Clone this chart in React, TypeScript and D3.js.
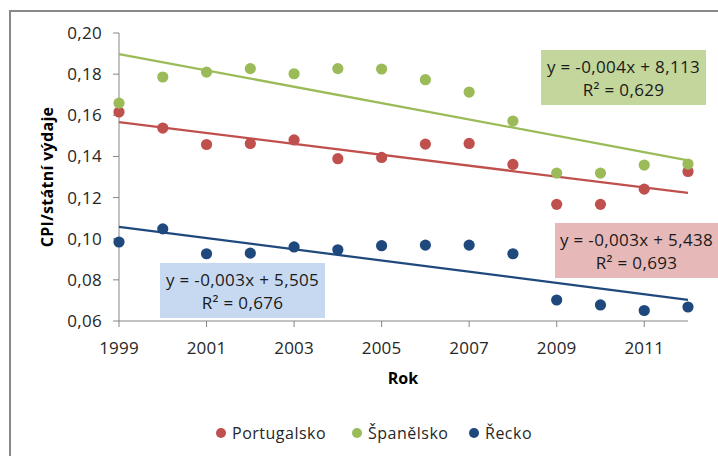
import React from "react";
import * as d3 from "d3";

const years = [1999, 2000, 2001, 2002, 2003, 2004, 2005, 2006, 2007, 2008, 2009, 2010, 2011, 2012];
const portugalsko = [0.1616, 0.1538, 0.1458, 0.1463, 0.148, 0.1389, 0.1395, 0.146, 0.1463, 0.1361, 0.1167, 0.1167, 0.1241, 0.1327];
const spanelsko = [0.1659, 0.1786, 0.181, 0.1827, 0.1802, 0.1827, 0.1825, 0.1773, 0.1713, 0.1572, 0.1319, 0.1319, 0.1358, 0.1363];
const recko = [0.0984, 0.1048, 0.0927, 0.093, 0.096, 0.0946, 0.0966, 0.0969, 0.0969, 0.0927, 0.0702, 0.0678, 0.0651, 0.0668];
const seriesNames = ["Portugalsko", "Španělsko", "Řecko"];
const seriesColors = ["#c0504d", "#9bbb59", "#1f497d"];
const equations = ["y = -0,003x + 5,438", "y = -0,004x + 8,113", "y = -0,003x + 5,505"];
const rSquared = ["R² = 0,693", "R² = 0,629", "R² = 0,676"];
const boxFills = ["#e6b9b8", "#c3d69b", "#c6d9f1"];
const yTicks = [0.06, 0.08, 0.1, 0.12, 0.14, 0.16, 0.18, 0.2];
const xTicks = [1999, 2001, 2003, 2005, 2007, 2009, 2011];

const FONT = "'Open Sans', 'Liberation Sans', sans-serif";

function regression(xs: number[], ys: number[]) {
  const mx = d3.mean(xs)!;
  const my = d3.mean(ys)!;
  let num = 0, den = 0;
  xs.forEach((x, i) => { num += (x - mx) * (ys[i] - my); den += (x - mx) ** 2; });
  const b = num / den;
  return { b, a: my - b * mx };
}

export default function App() {
  const x = d3.scaleLinear().domain([1999, 2012]).range([119, 688]);
  const y = d3.scaleLinear().domain([0.06, 0.2]).range([321, 33]);
  const fmt = (v: number) => d3.format(".2f")(v).replace(".", ",");
  const data = [portugalsko, spanelsko, recko];
  const boxes = [
    { x: 555, y: 223, w: 163, h: 55 },
    { x: 541, y: 50, w: 165, h: 55 },
    { x: 160, y: 263, w: 165, h: 55 },
  ];
  const legendX = [221, 357, 474];

  return (
    <svg width={718} height={456} style={{ position: "absolute", left: 0, top: 0, background: "#fff" }} fontFamily={FONT}>
      <rect x={10} y={11} width={720} height={460} fill="#fff" stroke="#898989" strokeWidth={2} />
      <line x1={119} x2={119} y1={y(0.2)} y2={y(0.06)} stroke="#868686" strokeWidth={1} />
      <line x1={119} x2={x(2012)} y1={y(0.06)} y2={y(0.06)} stroke="#868686" strokeWidth={1} />
      {yTicks.map((t) => (
        <g key={t}>
          <line x1={113} x2={119} y1={y(t)} y2={y(t)} stroke="#868686" />
          <text x={102} y={y(t)} dy="0.35em" textAnchor="end" fontSize={17} letterSpacing={0.3} fill="#262626">{fmt(t)}</text>
        </g>
      ))}
      {xTicks.map((t) => (
        <g key={t}>
          <line x1={x(t)} x2={x(t)} y1={321} y2={327} stroke="#868686" />
          <text x={x(t)} y={348} dy="0.35em" textAnchor="middle" fontSize={17} letterSpacing={0.2} fill="#262626">{t}</text>
        </g>
      ))}
      <text x={403} y={378} dy="0.35em" textAnchor="middle" fontSize={16} fontWeight="bold" fill="#000">Rok</text>
      <text transform={`translate(47,177) rotate(-90)`} dy="0.35em" textAnchor="middle" fontSize={16} fontWeight="bold" letterSpacing={0.3} fill="#000">CPI/státní výdaje</text>
      {data.map((vals, i) => {
        const { a, b } = regression(years, vals);
        return (
          <line key={"t" + i} x1={x(1999)} y1={y(a + b * 1999)} x2={x(2012)} y2={y(a + b * 2012)} stroke={seriesColors[i]} strokeWidth={2.25} />
        );
      })}
      {data.map((vals, i) => (
        <g key={"p" + i}>
          {vals.map((v, j) => (
            <circle key={j} cx={x(years[j])} cy={y(v)} r={5.6} fill={seriesColors[i]} />
          ))}
        </g>
      ))}
      {boxes.map((bx, i) => (
        <g key={"b" + i}>
          <rect x={bx.x} y={bx.y} width={bx.w} height={bx.h} fill={boxFills[i]} />
          <text x={bx.x + bx.w / 2} y={bx.y + 17} dy="0.35em" textAnchor="middle" fontSize={17} letterSpacing={0.35} fill="#1a1a1a">{equations[i]}</text>
          <text x={bx.x + bx.w / 2} y={bx.y + 40} dy="0.35em" textAnchor="middle" fontSize={17} letterSpacing={0.35} fill="#1a1a1a">{rSquared[i]}</text>
        </g>
      ))}
      {seriesNames.map((n, i) => (
        <g key={"l" + i}>
          <circle cx={legendX[i]} cy={433} r={5} fill={seriesColors[i]} />
          <text x={legendX[i] + 11} y={433} dy="0.35em" fontSize={16} letterSpacing={0.5} fill="#262626">{n}</text>
        </g>
      ))}
    </svg>
  );
}
